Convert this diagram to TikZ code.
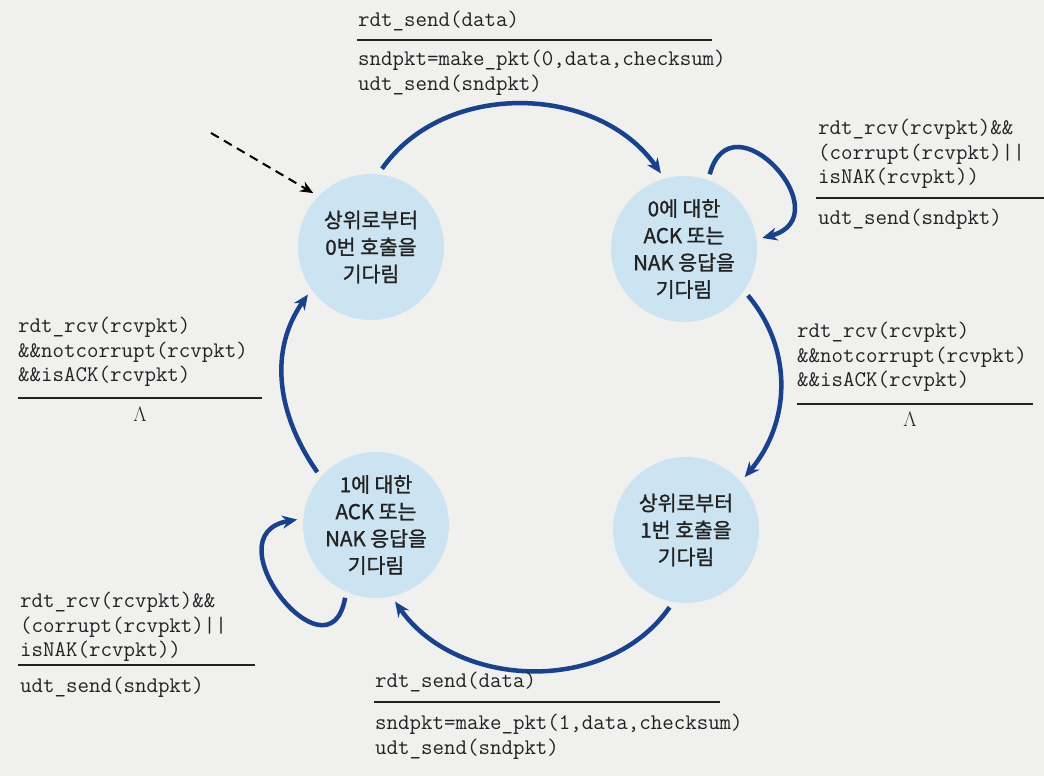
\documentclass[tikz,border=0pt]{standalone}
\usepackage{fontspec}
\newfontfamily\korfont[FakeBold=1.2]{Noto Sans CJK KR}
\usetikzlibrary{arrows.meta}

\definecolor{paper}{RGB}{240,240,238}
\definecolor{statefill}{RGB}{204,228,241}
\definecolor{arrowblue}{RGB}{26,66,140}
\definecolor{ink}{RGB}{34,34,34}

\newcommand{\lines}[1]{\begin{tabular}[t]{@{}l@{}}#1\end{tabular}}

\tikzset{
    state/.style={circle, fill=statefill, minimum size=146pt, inner sep=0pt, outer sep=6pt,
        align=center, text=ink, font=\korfont\fontsize{20.5}{27}\selectfont},
    trans/.style={draw=arrowblue, line width=4.5pt, -{Stealth[length=15pt,width=13pt]}},
    lbl/.style={anchor=base west, inner sep=0pt, text=ink, font=\ttfamily\fontsize{22.3}{24.5}\selectfont},
    bar/.style={draw=ink, line width=1.6pt},
}

\begin{document}
\begin{tikzpicture}[x=1pt,y=1pt]
        \fill[paper] (0,0) rectangle (1044,776);
        \useasboundingbox (0,0) rectangle (1044,776);

        % states
        \node[state] (wait0) at (371,529) {상위로부터\\0번 호출을\\기다림};
        \node[state] (ack0) at (684,527) {0에 대한\\ACK 또는\\NAK 응답을\\기다림};
        \node[state] (wait1) at (686,246) {상위로부터\\1번 호출을\\기다림};
        \node[state] (ack1) at (376,251) {1에 대한\\ACK 또는\\NAK 응답을\\기다림};

        % transitions
        \coordinate (init) at (211,643);
        \draw[dashed, dash pattern=on 9pt off 6pt, line width=2pt, -{Stealth[length=13pt,width=11pt]}] (init) -- (wait0.137);
        \draw[trans] (wait0.82) to[out=55,in=125] (ack0.107);
        \draw[trans] (ack0.-36) to[out=-50,in=50] (wait1.42);
        \draw[trans] (wait1.-102) to[out=-125,in=-55] (ack1.-76);
        \draw[trans] (ack1.138) to[out=125,in=-125] (wait0.-143);
        \draw[trans] (ack0.71) to[out=75,in=15,looseness=2.6] (ack0.8);
        \draw[trans] (ack1.-113) to[out=-100,in=190,looseness=2.5] (ack1.176);

        % labels
        \node[lbl] (send0) at (358,749) {rdt\_send(data)};
        \draw[bar] (357,736) -- (712,736);
        \node[lbl] (make0) at (358,710) {\lines{sndpkt=make\_pkt(0,data,checksum)\\udt\_send(sndpkt)}};

        \node[lbl] (nak0) at (818,641) {\lines{rdt\_rcv(rcvpkt)\&\&\\(corrupt(rcvpkt)||\\isNAK(rcvpkt))}};
        \draw[bar] (816,578) -- (1044,578);
        \node[lbl] (resend0) at (818,551) {udt\_send(sndpkt)};

        \node[lbl] (okack0) at (797,438) {\lines{rdt\_rcv(rcvpkt)\\\&\&notcorrupt(rcvpkt)\\\&\&isACK(rcvpkt)}};
        \draw[bar] (797,372) -- (1033,372);
        \node[lbl, anchor=base] (none0) at (910,349) {$\Lambda$};

        \node[lbl] (send1) at (375,88) {rdt\_send(data)};
        \draw[bar] (374,74) -- (720,74);
        \node[lbl] (make1) at (375,46) {\lines{sndpkt=make\_pkt(1,data,checksum)\\udt\_send(sndpkt)}};

        \node[lbl] (nak1) at (20,168) {\lines{rdt\_rcv(rcvpkt)\&\&\\(corrupt(rcvpkt)||\\isNAK(rcvpkt))}};
        \draw[bar] (18,111) -- (255,111);
        \node[lbl] (resend1) at (20,83) {udt\_send(sndpkt)};

        \node[lbl] (okack1) at (18,443) {\lines{rdt\_rcv(rcvpkt)\\\&\&notcorrupt(rcvpkt)\\\&\&isACK(rcvpkt)}};
        \draw[bar] (18,378) -- (262,378);
        \node[lbl, anchor=base] (none1) at (140,354) {$\Lambda$};
    \end{tikzpicture}
\end{document}
